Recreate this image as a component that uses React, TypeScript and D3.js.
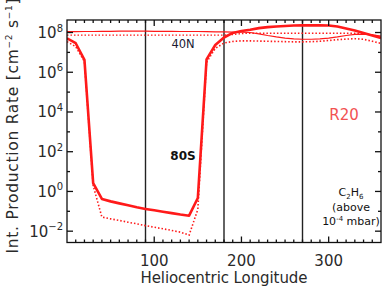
import { useEffect, useRef } from "react";
import * as d3 from "d3";

// longitude grid (deg) shared by all four curves
const longitudes = d3.range(0, 361, 10);

// log10 of integrated production rate
const s80Solid = [
  7.71, 7.46, 6.62, 0.42, -0.38, -0.5, -0.6, -0.7, -0.8, -0.88, -0.95, -1.02,
  -1.09, -1.16, -1.22, -0.33, 6.65, 7.37, 7.75, 7.98, 8.08, 8.14, 8.22, 8.27,
  8.3, 8.33, 8.35, 8.36, 8.36, 8.36, 8.35, 8.3, 8.2, 8.1, 7.98, 7.85, 7.72,
];
const s80Dotted = [
  7.54, 7.29, 6.53, 0.3, -1.29, -1.38, -1.46, -1.55, -1.63, -1.72, -1.8, -1.88,
  -1.96, -2.05, -2.2, -0.9, 6.5, 7.2, 7.47, 7.55, 7.58, 7.58, 7.57, 7.56, 7.55,
  7.54, 7.53, 7.53, 7.54, 7.56, 7.6, 7.64, 7.67, 7.69, 7.66, 7.56, 7.45,
];
const n40Solid = [
  8.04, 8.04, 8.05, 8.05, 8.06, 8.06, 8.07, 8.07, 8.07, 8.07, 8.06, 8.06, 8.06,
  8.05, 8.05, 8.05, 8.04, 8.03, 8.03, 8.02, 8.02, 8.0, 7.93, 7.85, 7.78, 7.72,
  7.68, 7.66, 7.66, 7.68, 7.72, 7.78, 7.85, 7.91, 7.92, 7.88, 7.82,
];
const n40Dotted = [
  7.87, 7.87, 7.87, 7.87, 7.87, 7.87, 7.87, 7.87, 7.87, 7.87, 7.87, 7.87, 7.87,
  7.87, 7.87, 7.87, 7.87, 7.87, 7.87, 7.9, 7.95, 7.96, 7.96, 7.96, 7.96, 7.96,
  7.96, 7.96, 7.96, 7.96, 7.96, 7.96, 7.96, 7.96, 7.95, 7.88, 7.78,
];

const xTicks = [100, 200, 300];
const yTicks = [-2, 0, 2, 4, 6, 8];
const seasonLines = [90, 180, 270];

const width = 382;
const height = 288;
const marginLeft = 67;
const marginRight = 1;
const marginTop = 20;
const marginBottom = 45.5;
const font = "'DejaVu Sans', sans-serif";
const ink = "#2a2a2a";

const App = () => {
  const ref = useRef<SVGSVGElement | null>(null);

  useEffect(() => {
    const svg = d3.select(ref.current);
    svg.selectAll("*").remove();

    const x = d3
      .scaleLinear()
      .domain([0, 360])
      .range([marginLeft, width - marginRight]);
    const y = d3
      .scaleLog()
      .domain([10 ** -2.57, 10 ** 8.63])
      .range([height - marginBottom, marginTop]);

    svg
      .append("clipPath")
      .attr("id", "plot-clip")
      .append("rect")
      .attr("x", marginLeft)
      .attr("y", marginTop)
      .attr("width", width - marginLeft - marginRight)
      .attr("height", height - marginTop - marginBottom);

    const plot = svg.append("g");

    // season markers
    plot
      .selectAll("line.season")
      .data(seasonLines)
      .join("line")
      .attr("x1", (d) => x(d))
      .attr("x2", (d) => x(d))
      .attr("y1", marginTop)
      .attr("y2", height - marginBottom)
      .attr("stroke", "#222")
      .attr("stroke-width", 1.4);

    const line = d3
      .line<number>()
      .x((_, i) => x(longitudes[i]))
      .y((d) => y(10 ** d));

    const curves = [
      { values: n40Solid, w: 1.2, dash: null },
      { values: n40Dotted, w: 1.4, dash: "1.5,2" },
      { values: s80Dotted, w: 1.6, dash: "1.5,2" },
      { values: s80Solid, w: 2.6, dash: null },
    ];
    const cg = plot.append("g").attr("clip-path", "url(#plot-clip)");
    curves.forEach((c) => {
      cg.append("path")
        .attr("d", line(c.values))
        .attr("fill", "none")
        .attr("stroke", "#ff1a1a")
        .attr("stroke-width", c.w)
        .attr("stroke-linejoin", "round")
        .attr("stroke-dasharray", c.dash);
    });

    // axes frame with inward ticks
    const axes = svg.append("g").attr("stroke", "#111").attr("stroke-width", 1.3);
    const x0 = marginLeft;
    const x1 = width - marginRight;
    const y0 = marginTop;
    const y1 = height - marginBottom;
    axes
      .append("rect")
      .attr("x", x0)
      .attr("y", y0)
      .attr("width", x1 - x0)
      .attr("height", y1 - y0)
      .attr("fill", "none");

    d3.range(10, 360, 10).forEach((d) => {
      const len = d % 100 === 0 ? 6 : 3;
      axes.append("line").attr("x1", x(d)).attr("x2", x(d)).attr("y1", y1).attr("y2", y1 - len);
      axes.append("line").attr("x1", x(d)).attr("x2", x(d)).attr("y1", y0).attr("y2", y0 + len);
    });
    d3.range(-2, 9).forEach((p) => {
      const len = p % 2 === 0 ? 6 : 3;
      const yy = y(10 ** p);
      axes.append("line").attr("x1", x0).attr("x2", x0 + len).attr("y1", yy).attr("y2", yy);
      axes.append("line").attr("x1", x1).attr("x2", x1 - len).attr("y1", yy).attr("y2", yy);
    });

    // tick labels
    svg
      .selectAll("text.xt")
      .data(xTicks)
      .join("text")
      .attr("x", (d) => x(d))
      .attr("y", y1 + 23)
      .attr("text-anchor", "middle")
      .attr("font-family", font)
      .attr("font-size", 15)
      .attr("fill", ink)
      .text((d) => d);

    yTicks.forEach((p) => {
      const t = svg
        .append("text")
        .attr("x", 63)
        .attr("y", y(10 ** p) + 5.5)
        .attr("text-anchor", "end")
        .attr("font-family", font)
        .attr("font-size", 15)
        .attr("fill", ink);
      t.append("tspan").text("10");
      t.append("tspan").attr("font-size", 10).attr("dy", -6.5).text(p < 0 ? `\u2212${-p}` : `${p}`);
    });

    // axis titles
    svg
      .append("text")
      .attr("x", x(180))
      .attr("y", 283)
      .attr("text-anchor", "middle")
      .attr("font-family", font)
      .attr("font-size", 15)
      .attr("fill", ink)
      .attr("textLength", 167)
      .text("Heliocentric Longitude");

    const yl = svg
      .append("text")
      .attr("transform", `translate(18,126) rotate(-90)`)
      .attr("text-anchor", "middle")
      .attr("font-family", font)
      .attr("font-size", 15.5)
      .attr("textLength", 255)
      .attr("fill", ink);
    yl.append("tspan").text("Int. Production Rate [cm");
    yl.append("tspan").attr("font-size", 9).attr("dy", -6).text("\u22122");
    yl.append("tspan").attr("dy", 6).text(" s");
    yl.append("tspan").attr("font-size", 9).attr("dy", -6).text("\u22121");
    yl.append("tspan").attr("dy", 6).text("]");

    // annotations
    svg
      .append("text")
      .attr("x", 183)
      .attr("y", 48)
      .attr("text-anchor", "middle")
      .attr("font-family", font)
      .attr("font-size", 11.5)
      .attr("fill", "#1a1a33")
      .text("40N");
    svg
      .append("text")
      .attr("x", 183)
      .attr("y", 160)
      .attr("text-anchor", "middle")
      .attr("font-family", font)
      .attr("font-size", 12)
      .attr("font-weight", "bold")
      .attr("fill", "#111")
      .text("80S");
    svg
      .append("text")
      .attr("x", 344)
      .attr("y", 120)
      .attr("text-anchor", "middle")
      .attr("font-family", font)
      .attr("font-size", 15)
      .attr("fill", "#f25252")
      .text("R20");

    const c2 = svg
      .append("text")
      .attr("x", 351)
      .attr("y", 196)
      .attr("text-anchor", "middle")
      .attr("font-family", font)
      .attr("font-size", 11)
      .attr("fill", "#111");
    c2.append("tspan").text("C");
    c2.append("tspan").attr("font-size", 7).attr("dy", 3).text("2");
    c2.append("tspan").attr("dy", -3).text("H");
    c2.append("tspan").attr("font-size", 7).attr("dy", 3).text("6");
    svg
      .append("text")
      .attr("x", 351)
      .attr("y", 211)
      .attr("text-anchor", "middle")
      .attr("font-family", font)
      .attr("font-size", 11)
      .attr("fill", "#111")
      .text("(above");
    const mb = svg
      .append("text")
      .attr("x", 351)
      .attr("y", 225)
      .attr("text-anchor", "middle")
      .attr("font-family", font)
      .attr("font-size", 11)
      .attr("fill", "#111");
    mb.append("tspan").text("10");
    mb.append("tspan").attr("font-size", 7).attr("dy", -4).text("-4");
    mb.append("tspan").attr("dy", 4).text(" mbar)");
  }, []);

  return (
    <svg
      ref={ref}
      width={width}
      height={height}
      style={{ position: "absolute", left: 0, top: 0, background: "#fff" }}
    />
  );
};

export default App;
